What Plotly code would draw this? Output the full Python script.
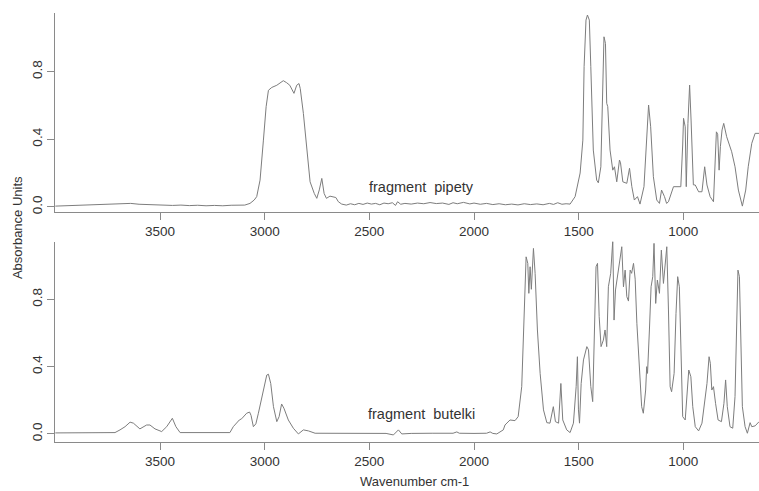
import plotly.graph_objects as go

# ---- data ----
pipety_wavenumber = [
    4000, 3960, 3920, 3880, 3840, 3800, 3760, 3720, 3680, 3640, 3600, 3560, 3520, 3480,
    3440, 3400, 3360, 3320, 3280, 3240, 3200, 3160, 3120, 3095, 3070, 3050, 3038, 3022,
    3006, 2993, 2982, 2966, 2942, 2911, 2895, 2880, 2860, 2847, 2836, 2830, 2815, 2799,
    2783, 2763, 2751, 2739, 2727, 2716, 2705, 2688, 2672, 2660, 2648, 2632, 2610, 2590,
    2570, 2550, 2530, 2510, 2490, 2470, 2450, 2430, 2410, 2390, 2375, 2365, 2350, 2330,
    2300, 2270, 2240, 2210, 2180, 2150, 2120, 2100, 2080, 2050, 2020, 2000, 1970, 1940,
    1910, 1880, 1850, 1820, 1790, 1760, 1730, 1700, 1670, 1640, 1620, 1600, 1580, 1560,
    1541, 1517, 1493, 1480, 1474, 1465, 1458, 1449, 1442, 1430, 1414, 1406, 1394, 1387,
    1379, 1372, 1366, 1361, 1350, 1337, 1329, 1318, 1305, 1300, 1289, 1270, 1257, 1246,
    1234, 1219, 1207, 1188, 1175, 1166, 1156, 1143, 1127, 1114, 1104, 1090, 1080, 1071,
    1047, 1023, 1012, 1003, 999, 991, 986, 978, 970, 963, 957, 952, 943, 927, 911, 898,
    887, 872, 856, 848, 842, 836, 829, 823, 815, 807, 793, 769, 753, 737, 718, 702, 690,
    673, 657, 638,
]
pipety_absorbance = [
    0.004, 0.006, 0.005, 0.010, 0.008, 0.014, 0.012, 0.018, 0.016, 0.020, 0.015, 0.013, 0.010, 0.012,
    0.008, 0.010, 0.007, 0.009, 0.006, 0.008, 0.006, 0.009, 0.007, 0.010, 0.020, 0.040, 0.060, 0.158,
    0.395, 0.593, 0.690, 0.707, 0.720, 0.747, 0.735, 0.720, 0.672, 0.720, 0.730, 0.700, 0.553, 0.336,
    0.148, 0.079, 0.050, 0.100, 0.168, 0.079, 0.050, 0.063, 0.059, 0.055, 0.030, 0.016, 0.010, 0.018,
    0.012, 0.020, 0.014, 0.022, 0.016, 0.020, 0.012, 0.022, 0.018, 0.024, 0.008, 0.030, 0.015, 0.020,
    0.016, 0.022, 0.018, 0.025, 0.019, 0.022, 0.014, 0.024, 0.018, 0.026, 0.017, 0.022, 0.015, 0.020,
    0.013, 0.018, 0.012, 0.016, 0.011, 0.018, 0.013, 0.017, 0.012, 0.020, 0.014, 0.024, 0.015, 0.018,
    0.016, 0.060, 0.200, 0.395, 0.830, 1.106, 1.136, 1.106, 0.830, 0.336, 0.158, 0.142, 0.237, 0.632,
    1.007, 0.968, 0.613, 0.593, 0.336, 0.217, 0.237, 0.148, 0.277, 0.260, 0.148, 0.139, 0.228, 0.119,
    0.040, 0.060, 0.016, 0.119, 0.435, 0.603, 0.474, 0.178, 0.040, 0.020, 0.099, 0.060, 0.020, 0.030,
    0.119, 0.119, 0.119, 0.366, 0.524, 0.474, 0.119, 0.494, 0.721, 0.514, 0.207, 0.130, 0.129, 0.089, 0.089, 0.237,
    0.129, 0.060, 0.030, 0.336, 0.444, 0.430, 0.217, 0.356, 0.455, 0.494, 0.415, 0.326, 0.237, 0.099, 0.004, 0.099, 0.237,
    0.376, 0.435, 0.435,
]

butelki_wavenumber = [
    4000, 3950, 3900, 3850, 3800, 3750, 3715, 3691, 3667, 3643, 3627, 3596, 3564, 3548,
    3524, 3492, 3468, 3441, 3424, 3404, 3350, 3300, 3250, 3200, 3166, 3150, 3121, 3110,
    3102, 3086, 3072, 3065, 3054, 3042, 3030, 3006, 2990, 2982, 2971, 2958, 2942, 2931,
    2919, 2908, 2887, 2863, 2839, 2815, 2791, 2759, 2700, 2600, 2500, 2420, 2385, 2361,
    2345, 2300, 2200, 2100, 2082, 2070, 2000, 1940, 1923, 1910, 1891, 1876, 1860, 1852,
    1836, 1828, 1804, 1789, 1772, 1761, 1751, 1743, 1738, 1732, 1726, 1716, 1708, 1697,
    1684, 1668, 1652, 1637, 1621, 1611, 1596, 1585, 1576, 1557, 1541, 1525, 1512, 1506,
    1501, 1496, 1488, 1477, 1461, 1453, 1442, 1433, 1425, 1417, 1410, 1402, 1393, 1382,
    1374, 1366, 1358, 1347, 1337, 1331, 1324, 1315, 1305, 1294, 1286, 1278, 1270, 1262,
    1254, 1247, 1238, 1230, 1222, 1210, 1199, 1191, 1180, 1175, 1171, 1162, 1154, 1146,
    1140, 1132, 1124, 1114, 1105, 1095, 1087, 1079, 1071, 1063, 1056, 1044, 1035, 1027,
    1019, 1012, 1003, 991, 983, 974, 964, 955, 943, 927, 911, 900, 887, 877, 871, 864,
    856, 846, 834, 818, 806, 798, 790, 777, 764, 753, 745, 739, 732, 725, 718, 705, 694,
    681, 673, 657, 638,
]
butelki_absorbance = [
    0.006, 0.007, 0.005, 0.008, 0.006, 0.007, 0.008, 0.024, 0.043, 0.070, 0.064, 0.030, 0.053, 0.053,
    0.030, 0.014, 0.043, 0.093, 0.043, 0.008, 0.007, 0.008, 0.006, 0.007, 0.008, 0.043, 0.083, 0.090,
    0.100, 0.123, 0.130, 0.110, 0.043, 0.060, 0.123, 0.260, 0.350, 0.355, 0.300, 0.162, 0.073, 0.103,
    0.178, 0.153, 0.083, 0.034, 0.000, 0.024, 0.018, 0.004, 0.004, 0.003, 0.004, 0.003, -0.006, 0.024,
    0.000, 0.003, 0.004, 0.004, 0.012, 0.004, 0.003, 0.004, 0.012, 0.003, 0.000, 0.014, 0.024, 0.053,
    0.073, 0.083, 0.079, 0.103, 0.281, 0.717, 1.053, 1.014, 0.836, 0.994, 0.860, 1.103, 0.955, 0.618,
    0.360, 0.143, 0.067, 0.064, 0.162, 0.073, 0.064, 0.300, 0.083, 0.024, 0.008, 0.064, 0.281, 0.459,
    0.143, 0.064, 0.300, 0.440, 0.519, 0.500, 0.281, 0.192, 0.697, 0.994, 1.014, 0.697, 0.519, 0.558,
    0.618, 0.519, 0.875, 0.955, 1.150, 0.677, 0.856, 0.935, 1.014, 1.113, 0.875, 0.974, 0.816, 0.790,
    0.974, 0.955, 1.014, 0.920, 0.658, 0.360, 0.162, 0.123, 0.261, 0.400, 0.360, 0.618, 0.875, 0.935,
    1.133, 0.776, 0.915, 0.836, 1.093, 0.895, 1.014, 1.113, 0.737, 0.281, 0.251, 0.360, 0.717, 0.935,
    0.875, 0.499, 0.103, 0.083, 0.222, 0.380, 0.340, 0.162, 0.043, 0.018, 0.064, 0.182, 0.300, 0.459, 0.420, 0.261,
    0.281, 0.182, 0.083, 0.073, 0.182, 0.321, 0.162, 0.043, 0.034, 0.222, 0.717, 0.974, 0.935, 0.519, 0.162, 0.043, 0.004,
    0.067, 0.043, 0.048, 0.073,
]

x_ticks = [3500, 3000, 2500, 2000, 1500, 1000]
y_ticks = [0.0, 0.4, 0.8]
y_tick_labels = ["0.0", "0.4", "0.8"]
panel_labels = ["fragment  pipety", "fragment  butelki"]

# ---- figure ----
FONT = "Liberation Sans, Arial, sans-serif"
line_color = "#7d7d7d"
axis_color = "#8a8a8a"
text_color = "#333333"

fig = go.Figure()
fig.add_trace(go.Scatter(x=pipety_wavenumber, y=pipety_absorbance, mode="lines",
                         line=dict(color=line_color, width=1), xaxis="x", yaxis="y",
                         showlegend=False, hoverinfo="skip"))
fig.add_trace(go.Scatter(x=butelki_wavenumber, y=butelki_absorbance, mode="lines",
                         line=dict(color=line_color, width=1), xaxis="x2", yaxis="y2",
                         showlegend=False, hoverinfo="skip"))

xcommon = dict(range=[4001.6, 638.5], tickmode="array", tickvals=x_ticks,
               showline=True, linecolor=axis_color, linewidth=1, mirror=False,
               ticks="outside", ticklen=7, tickcolor=axis_color, tickwidth=1,
               showgrid=False, zeroline=False,
               tickfont=dict(family=FONT, size=13.5, color=text_color))
ycommon = dict(tickmode="array", tickvals=y_ticks, ticktext=y_tick_labels,
               showline=True, linecolor=axis_color, linewidth=1, mirror=False,
               ticks="outside", ticklen=7, tickcolor=axis_color, tickwidth=1,
               tickangle=-90, showgrid=False, zeroline=False,
               tickfont=dict(family=FONT, size=13.5, color=text_color))

fig.update_layout(
    width=759, height=491,
    margin=dict(l=55, r=0, t=13, b=49),
    paper_bgcolor="white", plot_bgcolor="white",
    xaxis=dict(**xcommon, anchor="y", domain=[0, 1]),
    yaxis=dict(**ycommon, anchor="x", domain=[0.5361, 1.0], range=[-0.031, 1.148]),
    xaxis2=dict(**xcommon, anchor="y2", domain=[0, 1]),
    yaxis2=dict(**ycommon, anchor="x2", domain=[0.0, 0.4669], range=[-0.048, 1.143]),
    annotations=[
        dict(text=panel_labels[0], x=2253, y=0.117, xref="x", yref="y",
             showarrow=False, font=dict(family=FONT, size=14.5, color=text_color)),
        dict(text=panel_labels[1], x=2253, y=0.117, xref="x2", yref="y2",
             showarrow=False, font=dict(family=FONT, size=14.5, color=text_color)),
        dict(text="Absorbance Units", x=-0.054, y=0.501, xref="paper", yref="paper",
             textangle=-90, showarrow=False, xanchor="center", yanchor="middle",
             font=dict(family=FONT, size=13, color=text_color)),
        dict(text="Wavenumber cm-1", x=0.5107, y=-0.091, xref="paper", yref="paper",
             showarrow=False, xanchor="center", yanchor="middle",
             font=dict(family=FONT, size=13, color=text_color)),
    ],
)

fig.write_html("out.html")
